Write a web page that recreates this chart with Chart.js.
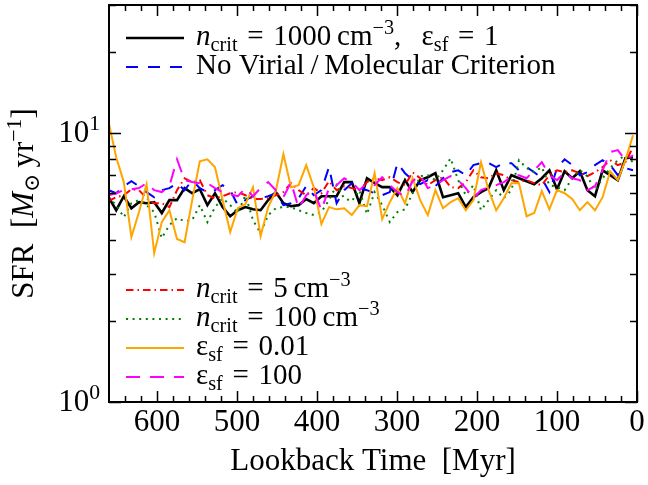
<!DOCTYPE html>
<html><head><meta charset="utf-8">
<script src="https://cdn.jsdelivr.net/npm/chart.js@4/dist/chart.umd.min.js"></script>
<style>html,body{margin:0;padding:0;background:#fff;}canvas{display:block;}</style>
</head><body>
<canvas id="c" width="648" height="485"></canvas>
<script>
const lookbackTime = [660.5, 651, 641.5, 632, 622.5, 613, 603.5, 594, 584.5, 575,
  565.5, 556, 546.5, 537, 527.5, 518, 508.5, 499, 489.5, 480,
  470.5, 461, 451.5, 442, 432.5, 423, 413.5, 404, 394.5, 385,
  375.5, 366, 356.5, 347, 337.5, 328, 318.5, 309, 299.5, 290,
  280.5, 271, 261.5, 252, 242.5, 233, 223.5, 214, 204.5, 195,
  185.5, 176, 166.5, 157, 147.5, 138, 128.5, 119, 109.5, 100,
  90.5, 81, 71.5, 62, 52.5, 43, 33.5, 24, 14.5, 5];

const sfrFiducial = [5.78, 5.17, 5.83, 5.26, 5.54, 5.49, 5.54, 5.05, 5.64, 5.64,
  6.25, 5.98, 6.19, 5.40, 5.98, 5.31, 4.91, 5.17, 5.31, 5.21,
  5.17, 5.64, 6.04, 5.49, 5.35, 5.40, 5.69, 5.49, 5.83, 5.83,
  5.83, 6.58, 6.58, 5.49, 6.80, 6.52, 6.30, 6.30, 5.88, 6.69,
  6.04, 6.69, 6.86, 7.10, 5.78, 5.88, 5.98, 5.31, 5.78, 6.04,
  6.25, 7.28, 6.14, 6.98, 6.80, 6.63, 6.46, 6.80, 7.28, 6.19,
  7.22, 6.80, 7.22, 6.14, 5.83, 7.28, 6.98, 6.69, 8.07, 8.14];

const sfrNoVirial = [6.14, 5.98, 6.35, 6.63, 6.35, 6.04, 5.78, 6.14, 6.25, 6.52,
  6.14, 6.69, 6.25, 6.04, 6.14, 6.41, 6.14, 5.40, 5.64, 5.83,
  5.73, 5.83, 5.98, 5.40, 5.49, 5.73, 6.35, 5.88, 6.14, 7.48,
  5.49, 6.14, 6.52, 6.25, 6.14, 5.98, 5.88, 6.04, 7.74, 7.10,
  6.69, 6.46, 6.69, 6.35, 6.80, 7.16, 7.28, 6.98, 7.61, 7.74,
  7.74, 7.48, 7.74, 7.74, 7.28, 7.48, 7.16, 6.80, 6.04, 7.42,
  8.00, 7.61, 6.98, 7.16, 7.61, 7.94, 7.61, 6.98, 7.42, 7.28];

const sfrNcrit5 = [5.59, 5.78, 5.88, 6.19, 6.14, 5.73, 5.49, 5.49, 5.31, 6.14,
  6.80, 6.58, 6.69, 5.88, 5.73, 5.83, 5.98, 6.04, 5.88, 5.69,
  5.69, 5.73, 5.88, 6.04, 6.52, 6.14, 5.88, 6.25, 5.98, 6.63,
  6.14, 6.35, 6.25, 6.14, 6.58, 6.80, 6.69, 6.86, 6.58, 6.41,
  7.16, 6.80, 6.41, 6.69, 6.86, 6.30, 6.25, 6.58, 7.28, 6.86,
  6.80, 7.10, 6.98, 6.69, 6.58, 6.69, 6.52, 6.41, 6.98, 7.28,
  7.16, 7.28, 7.10, 6.92, 7.16, 7.48, 7.94, 7.61, 7.80, 8.87];

const sfrNcrit100 = [5.78, 5.40, 4.87, 5.49, 5.64, 5.40, 5.09, 4.07, 4.55, 4.83,
  4.71, 4.75, 5.40, 4.67, 5.31, 5.73, 5.40, 5.05, 5.88, 4.75,
  4.25, 4.96, 5.26, 5.31, 5.31, 5.17, 5.05, 4.96, 5.09, 5.64,
  6.41, 5.73, 5.59, 6.14, 5.00, 6.04, 5.40, 4.67, 5.09, 5.21,
  5.98, 6.92, 6.98, 6.69, 7.28, 8.07, 6.69, 5.88, 6.41, 5.17,
  5.64, 6.14, 5.73, 6.14, 7.94, 7.42, 7.16, 7.48, 6.41, 6.30,
  6.14, 6.80, 7.28, 6.92, 6.14, 6.80, 7.42, 7.94, 8.28, 7.80];

const sfrEps001 = [10.99, 8.14, 6.58, 4.11, 5.09, 6.46, 3.58, 4.67, 5.17, 4.04,
  3.93, 5.64, 7.87, 8.00, 7.47, 5.64, 4.29, 5.26, 5.45, 6.30,
  4.14, 5.31, 6.09, 8.35, 6.30, 6.41, 7.61, 6.30, 4.59, 5.31,
  5.21, 5.26, 4.96, 5.40, 5.35, 7.10, 4.79, 5.54, 6.25, 5.49,
  6.80, 5.64, 4.96, 6.14, 5.26, 5.54, 5.73, 5.17, 5.64, 7.80,
  6.14, 5.17, 5.73, 6.52, 6.52, 4.91, 5.05, 6.09, 5.21, 6.14,
  5.98, 5.69, 5.17, 5.54, 5.17, 5.78, 7.22, 6.69, 7.94, 9.83];

const sfrEps100 = [5.88, 5.98, 6.14, 6.19, 6.25, 6.52, 6.14, 6.04, 6.35, 8.00,
  6.69, 6.58, 6.52, 6.52, 6.25, 6.04, 5.93, 5.83, 6.25, 5.83,
  6.25, 6.58, 6.14, 5.78, 6.58, 5.26, 5.88, 6.14, 5.17, 6.25,
  6.41, 6.80, 6.58, 6.14, 6.52, 6.41, 6.86, 6.41, 6.04, 5.83,
  6.63, 6.98, 6.25, 6.41, 6.69, 6.92, 6.69, 6.25, 5.73, 6.14,
  6.30, 6.41, 6.58, 6.86, 6.98, 6.80, 7.28, 7.80, 6.98, 6.69,
  7.16, 6.80, 6.69, 6.14, 6.35, 7.28, 8.51, 8.66, 7.94, 8.28];

const xMajorTicks = [0, 100, 200, 300, 400, 500, 600];
const xMinorTicks = [20, 40, 60, 80, 120, 140, 160, 180, 220, 240, 260, 280, 320, 340, 360, 380,
  420, 440, 460, 480, 520, 540, 560, 580, 620, 640];
const yMajorTicks = [1, 10];
const yMajorLabels = [['10', '0'], ['10', '1']];
const yMinorTicks = [2, 3, 4, 5, 6, 7, 8, 9, 20, 30];

const SERIF = '"Liberation Serif", "DejaVu Serif", serif';
const EQ = ' \u200A=\u200A ';

// legend entries: rich-text segments (it = italic, sub/sup = sub/superscript)
const legendUpper = [
  { ds: 0, segs: [{t:'n', it:1}, {t:'crit', sub:1}, {t:EQ + '1000\u2009cm'}, {t:'\u22123', sup:1}, {t:',\u2002\u2009\u03b5'}, {t:'sf', sub:1}, {t:EQ + '1'}] },
  { ds: 1, segs: [{t:'No Virial\u2009/\u2009Molecular Criterion'}] }
];
const legendLower = [
  { ds: 2, segs: [{t:'n', it:1}, {t:'crit', sub:1}, {t:EQ + '5\u2009cm'}, {t:'\u22123', sup:1}] },
  { ds: 3, segs: [{t:'n', it:1}, {t:'crit', sub:1}, {t:EQ + '100\u2009cm'}, {t:'\u22123', sup:1}] },
  { ds: 4, segs: [{t:'\u03b5'}, {t:'sf', sub:1}, {t:EQ + '0.01'}] },
  { ds: 5, segs: [{t:'\u03b5'}, {t:'sf', sub:1}, {t:EQ + '100'}] }
];
const yTitleSegs = [{t:'SFR  '}, {t:'['}, {t:'M', it:1}, {t:'\u2299', sub:1}, {t:'\u2009yr'}, {t:'\u22121', sup:1}, {t:']'}];

function drawRich(ctx, x, y, segs, size, measureOnly) {
  let cx = x;
  for (const s of segs) {
    let fs = size, dy = 0;
    if (s.sub) { fs = size * 0.7; dy = size * 0.2; }
    if (s.sup) { fs = size * 0.7; dy = -size * 0.38; }
    ctx.font = (s.it ? 'italic ' : '') + fs + 'px ' + SERIF;
    if (!measureOnly) ctx.fillText(s.t, cx, y + dy);
    cx += ctx.measureText(s.t).width;
  }
  return cx - x;
}

function mk(data) { return data.map((v, i) => ({ x: lookbackTime[i], y: v })); }

const datasets = [
  { label: 'fiducial', data: mk(sfrFiducial), borderColor: '#000000', borderWidth: 2.6, borderDash: [], order: 6 },
  { label: 'noVirial', data: mk(sfrNoVirial), borderColor: '#0000ff', borderWidth: 2, borderDash: [12, 10], order: 5 },
  { label: 'ncrit5', data: mk(sfrNcrit5), borderColor: '#ff0000', borderWidth: 2, borderDash: [7.5, 4, 1.5, 4], order: 4 },
  { label: 'ncrit100', data: mk(sfrNcrit100), borderColor: '#008000', borderWidth: 2, borderDash: [2, 4.6], order: 3 },
  { label: 'eps001', data: mk(sfrEps001), borderColor: '#ffa500', borderWidth: 2, borderDash: [], order: 2 },
  { label: 'eps100', data: mk(sfrEps100), borderColor: '#ff00ff', borderWidth: 2, borderDash: [14, 10], order: 1 }
];
datasets.forEach(d => { d.pointRadius = 0; d.fill = false; d.tension = 0; d.borderCapStyle = 'butt'; d.borderJoinStyle = 'miter'; });

const decorPlugin = {
  id: 'decor',
  afterDraw(chart) {
    const ctx = chart.ctx;
    const a = chart.chartArea;
    const xs = chart.scales.x, ys = chart.scales.y;
    ctx.save();
    ctx.strokeStyle = '#000';
    ctx.fillStyle = '#000';
    ctx.lineWidth = 1.5;
    ctx.beginPath();
    const xt = (vals, len) => vals.forEach(v => {
      const p = Math.round(xs.getPixelForValue(v)) + 0.5;
      ctx.moveTo(p, a.bottom); ctx.lineTo(p, a.bottom - len);
      ctx.moveTo(p, a.top); ctx.lineTo(p, a.top + len);
    });
    const yt = (vals, len) => vals.forEach(v => {
      if (v > ys.max || v < ys.min) return;
      const p = Math.round(ys.getPixelForValue(v)) + 0.5;
      ctx.moveTo(a.left, p); ctx.lineTo(a.left + len, p);
      ctx.moveTo(a.right, p); ctx.lineTo(a.right - len, p);
    });
    xt(xMajorTicks, 11); xt(xMinorTicks, 6);
    yt(yMajorTicks, 12); yt(yMinorTicks, 7);
    ctx.stroke();
    ctx.lineWidth = 2;
    ctx.strokeRect(a.left, a.top, a.right - a.left, a.bottom - a.top);

    ctx.textBaseline = 'alphabetic';
    ctx.textAlign = 'left';
    yMajorTicks.forEach((v, i) => {
      const p = ys.getPixelForValue(v);
      const [base, ex] = yMajorLabels[i];
      const segs = [{t: base}, {t: ex, sup: 1}];
      const w = drawRich(ctx, 0, 0, segs, 31, true);
      drawRich(ctx, a.left - 9 - w, p + 9, segs, 31);
    });

    ctx.save();
    const cy = (a.top + a.bottom) / 2;
    ctx.translate(33, cy);
    ctx.rotate(-Math.PI / 2);
    const tw = drawRich(ctx, 0, 0, yTitleSegs, 31, true);
    drawRich(ctx, -tw / 2, 0, yTitleSegs, 31);
    ctx.restore();

    const drawLegend = (items, y0) => {
      items.forEach((it, i) => {
        const ds = chart.data.datasets[it.ds];
        const y = y0 + i * 29;
        ctx.save();
        ctx.strokeStyle = ds.borderColor;
        ctx.lineWidth = ds.borderWidth;
        ctx.setLineDash(ds.borderDash || []);
        ctx.lineCap = 'butt';
        ctx.beginPath();
        ctx.moveTo(126, y); ctx.lineTo(184, y);
        ctx.stroke();
        ctx.restore();
        ctx.fillStyle = '#000';
        drawRich(ctx, 196, y + 7, it.segs, 29);
      });
    };
    drawLegend(legendUpper, 38);
    drawLegend(legendLower, 290);
    ctx.restore();
  }
};

new Chart(document.getElementById('c'), {
  type: 'line',
  data: { datasets },
  options: {
    responsive: false,
    devicePixelRatio: 1,
    animation: false,
    layout: { padding: { left: 0, right: 11, top: 5, bottom: 0 } },
    plugins: { legend: { display: false }, tooltip: { enabled: false } },
    scales: {
      x: {
        type: 'linear', min: 0, max: 660, reverse: true,
        grid: { display: false, drawTicks: false },
        border: { display: false },
        afterBuildTicks: s => { s.ticks = xMajorTicks.map(v => ({ value: v })); },
        ticks: { font: { family: SERIF, size: 31 }, color: '#000', padding: 2, maxRotation: 0, autoSkip: false },
        title: { display: true, text: 'Lookback Time  [Myr]', font: { family: SERIF, size: 31 }, color: '#000', padding: { top: 0, bottom: 5 } },
        afterFit: s => { s.height = 83; }
      },
      y: {
        type: 'logarithmic', min: 1, max: 30,
        grid: { display: false, drawTicks: false },
        border: { display: false },
        ticks: { display: false },
        afterFit: s => { s.width = 109; }
      }
    }
  },
  plugins: [decorPlugin]
});
</script>
</body></html>
